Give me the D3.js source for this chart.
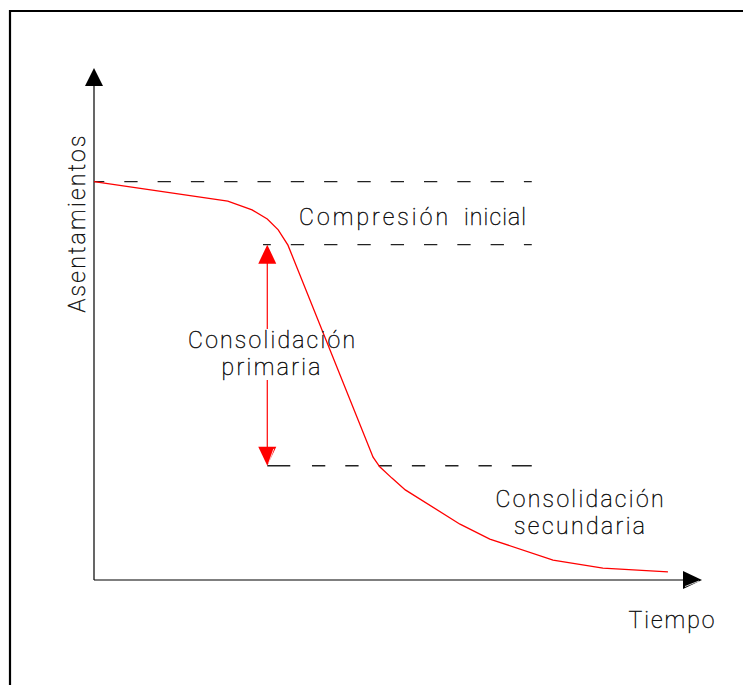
<!DOCTYPE html>
<html>
<head>
<meta charset="utf-8">
<script src="https://cdn.jsdelivr.net/npm/d3@7"></script>
<style>
  html, body { margin: 0; padding: 0; background: #fff; }
  svg { display: block; }
  text { font-family: Roboto, "Open Sans", sans-serif; font-weight: 100; fill: #111; stroke: #111; stroke-width: 0.45; }
</style>
</head>
<body>
<svg id="chart" width="743" height="685"></svg>
<script>
// ---- data (conceptual settlement vs. time curve) ----
const curveTime = [0, 2.20, 2.60, 2.85, 3.03, 3.19, 4.59, 4.70, 4.90, 5.12, 6.02, 6.51, 7.55, 8.37, 9.44];
const curveSettle = [7.78, 7.40, 7.23, 7.05, 6.84, 6.54, 2.40, 2.21, 1.99, 1.76, 1.09, 0.80, 0.39, 0.23, 0.16];
const guideLevels = [7.78, 6.55, 2.23];          // initial, end of compression, end of primary
const guideStart = [0, 2.78, 2.85];
const guideEnd = [7.20, 7.20, 7.20];
const primaryArrowTime = 2.85;
const axisLabels = ["Tiempo", "Asentamientos"];
const phaseLabels = ["Compresión", "inicial", "Consolidación", "primaria", "Consolidación", "secundaria"];

const svg = d3.select("#chart");

// frame
svg.append("path").attr("d", "M10,700 V11 H760")
  .attr("fill", "none").attr("stroke", "#000").attr("stroke-width", 2.2);

const x = d3.scaleLinear().domain([0, 10]).range([94, 702]);
const y = d3.scaleLinear().domain([0, 10]).range([580, 68]);

// dashed guides
const dashes = ["13.3,20", "13.3,20", "23,21.7,13.3,20,13.3,20,13.3,20,13.3,20,13.3,20,13.3,20,21,100"];
const offsets = [3, 5.5, 0];
guideLevels.forEach((lv, i) => {
  svg.append("line")
    .attr("x1", x(guideStart[i])).attr("x2", x(guideEnd[i]))
    .attr("y1", y(lv)).attr("y2", y(lv))
    .attr("stroke", "#222").attr("stroke-width", 1.4)
    .attr("stroke-dasharray", dashes[i])
    .attr("stroke-dashoffset", offsets[i]);
});

// axes
const x0 = x(0), y0 = y(0);
svg.append("line").attr("x1", x0).attr("x2", x(10) - 18).attr("y1", y0).attr("y2", y0)
  .attr("stroke", "#000").attr("stroke-width", 1.2);
svg.append("line").attr("x1", x0).attr("x2", x0).attr("y1", y0).attr("y2", y(10) + 18)
  .attr("stroke", "#000").attr("stroke-width", 1.2);
// arrowheads
const xt = x(10), yt = y(10);
svg.append("path").attr("d", `M${xt},${y0} L${xt - 19},${y0 - 9} L${xt - 19},${y0 + 9} Z`).attr("fill", "#000");
svg.append("line").attr("x1", xt - 17).attr("y1", y0 + 6.5).attr("x2", xt - 3).attr("y2", y0 + 1)
  .attr("stroke", "#fff").attr("stroke-width", 0.8);
svg.append("path").attr("d", `M${x0},${yt} L${x0 - 9},${yt + 18} L${x0 + 9},${yt + 18} Z`).attr("fill", "#000");

// curve
const line = d3.line().x(d => x(d[0])).y(d => y(d[1]));
svg.append("path").datum(d3.zip(curveTime, curveSettle))
  .attr("d", line).attr("fill", "none").attr("stroke", "#ff0000").attr("stroke-width", 1.3);

// primary consolidation double arrow
const ax = x(primaryArrowTime), aTop = y(guideLevels[1]), aBot = y(guideLevels[2]);
svg.append("line").attr("x1", ax).attr("x2", ax).attr("y1", aTop + 18).attr("y2", 329)
  .attr("stroke", "#ff0000").attr("stroke-width", 1.2);
svg.append("line").attr("x1", ax).attr("x2", ax).attr("y1", 380).attr("y2", aBot - 18)
  .attr("stroke", "#ff0000").attr("stroke-width", 1.2);
svg.append("path").attr("d", `M${ax},${aTop} L${ax - 9},${aTop + 19} L${ax + 9},${aTop + 19} Z`).attr("fill", "#ff0000");
svg.append("path").attr("d", `M${ax},${aBot} L${ax - 9},${aBot - 19} L${ax + 9},${aBot - 19} Z`).attr("fill", "#ff0000");
svg.append("line").attr("x1", ax + 1.5).attr("y1", aBot - 3).attr("x2", ax + 6.5).attr("y2", aBot - 17)
  .attr("stroke", "#fff").attr("stroke-width", 0.8);

// texts
function label(str, xs, base, len, rot) {
  const t = svg.append("text").text(str).attr("font-size", 23)
    .attr("textLength", len).attr("lengthAdjust", "spacing");
  if (rot) {
    t.attr("transform", `translate(${xs},${base}) rotate(-90)`);
  } else {
    t.attr("x", xs).attr("y", base);
  }
  return t;
}
label(phaseLabels[0], 299, 224.5, 149);
label(phaseLabels[1], 464, 224.5, 62);
label(phaseLabels[2], 188, 348.3, 167);
label(phaseLabels[3], 221.5, 375, 99);
label(phaseLabels[4], 495.5, 507.3, 168);
label(phaseLabels[5], 514, 534, 131);
label(axisLabels[0], 628.5, 627.7, 86);
label(axisLabels[1], 85, 312.5, 177, true);
</script>
</body>
</html>
